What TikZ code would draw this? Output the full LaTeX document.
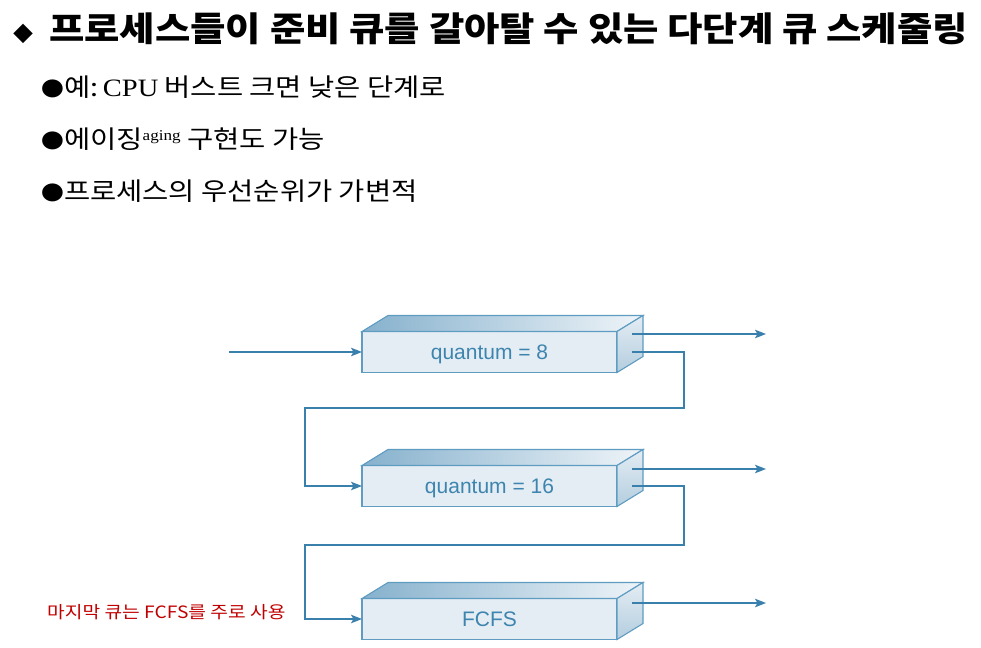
\documentclass[tikz,border=0pt]{standalone}
\usepackage{fontspec}
\setmainfont{Noto Sans CJK KR}
\newfontfamily\qfont{Liberation Sans}
\newfontfamily\cpufont{Liberation Serif}
\usepackage{tikz}
\usetikzlibrary{calc}
\usetikzlibrary{arrows,arrows.meta,shapes,positioning}
\tikzset{>={Stealth[length=11pt,width=8.5pt,inset=2.5pt]}}
\definecolor{edgeblue}{HTML}{5E9CC2}
\definecolor{lineblue}{HTML}{3A80AC}
\definecolor{frontblue}{HTML}{E4EDF4}
\definecolor{topblue}{HTML}{86B1CD}
\definecolor{sideblue}{HTML}{B3CDDE}
\definecolor{textblue}{HTML}{3D84AE}
\definecolor{notered}{HTML}{C00000}
\newcommand{\bulletdot}{{\fontsize{20}{20}\selectfont ●}}
\tikzset{
  queue/.style={draw=edgeblue, line width=1.1pt, fill=frontblue, outer sep=0pt,
    minimum width=255pt, minimum height=41pt, inner sep=0pt,
    text height=15pt, text depth=0pt,
    text=textblue, font=\qfont\fontsize{21}{21}\selectfont},
  flow/.style={draw=lineblue, line width=1.8pt},
  bullet/.style={anchor=west, inner sep=0pt, font=\fontsize{25}{25}\selectfont}
}
\begin{document}
\begin{tikzpicture}[x=1pt,y=-1pt]
  \useasboundingbox (0,0) rectangle (981,647);
  % title and bullets
  \node[anchor=west, inner sep=0pt] (title) at (13,29)
    {{\fontsize{20}{20}\selectfont ◆}\hspace{16pt}\scalebox{1.13}[1]{\fontsize{34}{34}\selectfont\bfseries 프로세스들이 준비 큐를 갈아탈 수 있는 다단계 큐 스케줄링}};
  \node[bullet] (b1) at (41,87) {\scalebox{1.14}[1]{\bulletdot 예:\,{\cpufont CPU} 버스트 크면 낮은 단계로}};
  \node[bullet] (b2) at (41,139) {\scalebox{1.14}[1]{\bulletdot 에이징\raisebox{8pt}{\cpufont\fontsize{15}{15}\selectfont aging} 구현도 가능}};
  \node[bullet] (b3) at (41,191) {\scalebox{1.14}[1]{\bulletdot 프로세스의 우선순위가 가변적}};

  % the three queues
  \node[queue] (q1) at (489.5,352) {quantum = 8};
  \node[queue] (q2) at (489.5,486) {quantum = 16};
  \node[queue] (q3) at (489.5,619) {FCFS};
  \foreach \q in {q1,q2,q3}{
    \shadedraw[draw=edgeblue, line width=1.1pt, left color=topblue, right color=frontblue!60!white]
      (\q.north west) -- ++(26,-16) -- ($(\q.north east)+(26,-16)$) -- (\q.north east) -- cycle;
    \shadedraw[draw=edgeblue, line width=1.1pt, top color=frontblue, bottom color=sideblue]
      (\q.north east) -- ++(26,-16) -- ++(0,41) -- (\q.south east) -- cycle;
  }

  \node[anchor=west, inner sep=0pt, text=notered, font=\fontsize{17}{17}\selectfont] (note) at (47,612) {\scalebox{1.13}[1]{마지막 큐는 FCFS를 주로 사용}};

  % connectors
  \coordinate (in) at (229,352);
  \coordinate (o1) at (766,334);
  \coordinate (o2) at (766,469);
  \coordinate (o3) at (766,603);
  \draw[flow,->] (in) -- (q1.west);
  \draw[flow,->] ($(q1.east)+(15,-18)$) -- (o1);
  \draw[flow,->] ($(q2.east)+(15,-17)$) -- (o2);
  \draw[flow,->] ($(q3.east)+(15,-16)$) -- (o3);
  \draw[flow,->] ($(q1.east)+(15,0)$) -- ++(52,0) -- ++(0,56) -| ($(q2.west)+(-57,0)$) -- (q2.west);
  \draw[flow,->] ($(q2.east)+(15,0)$) -- ++(52,0) -- ++(0,59) -| ($(q3.west)+(-57,0)$) -- (q3.west);
\end{tikzpicture}
\end{document}
